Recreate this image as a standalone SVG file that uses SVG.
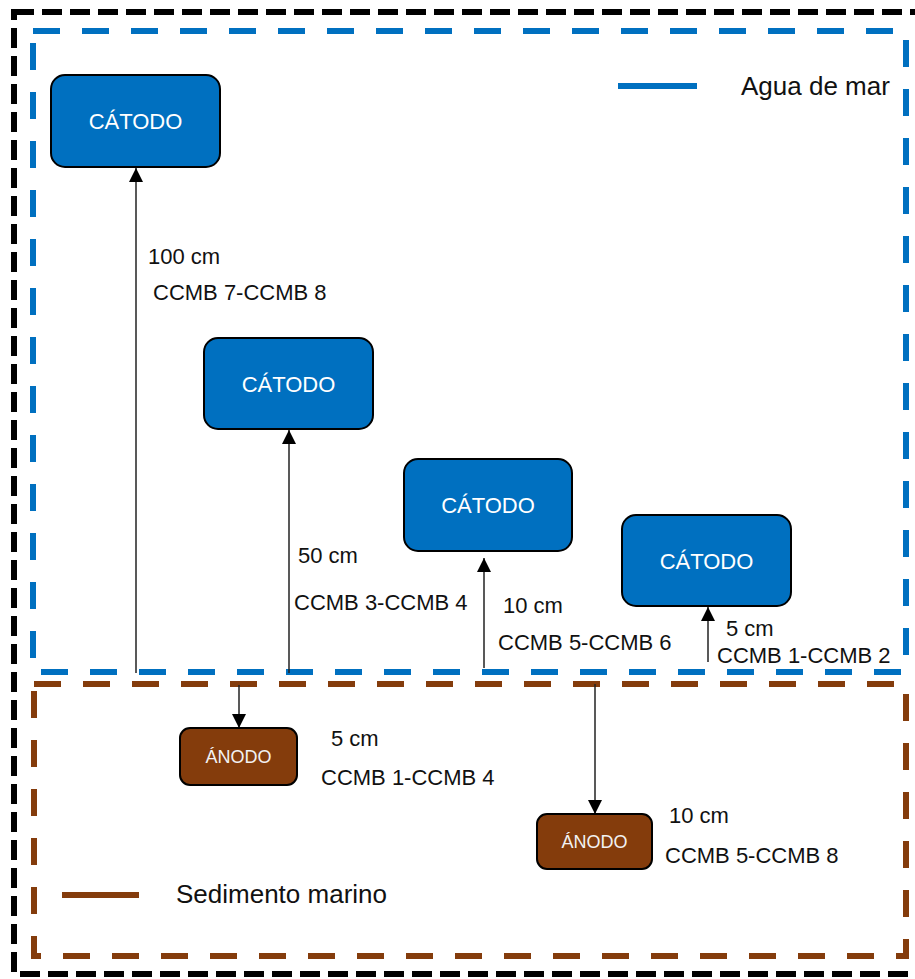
<svg xmlns="http://www.w3.org/2000/svg" width="915" height="979" viewBox="0 0 915 979">
<style>
.frame{fill:none;stroke:#000;stroke-width:6;stroke-dasharray:20 8}
.sea{fill:none;stroke:#0070C0;stroke-width:6;stroke-dasharray:27 22}
.sed{fill:none;stroke:#843C0C;stroke-width:6;stroke-dasharray:27 22}
.cat rect{fill:#0070C0;stroke:#000;stroke-width:2}
.ano rect{fill:#843C0C;stroke:#000;stroke-width:2}
.cat text{fill:#fff;font-family:"Liberation Sans",Arial,sans-serif;font-size:22px;text-anchor:middle}
.ano text{fill:#f2f2f2;font-family:"Liberation Sans",Arial,sans-serif;font-size:18px;text-anchor:middle}
.lbl{fill:#111;font-family:"Liberation Sans",Arial,sans-serif;font-size:22px}
.leg{fill:#111;font-family:"Liberation Sans",Arial,sans-serif;font-size:26px}
.conn line{stroke:#222;stroke-width:1.5;marker-end:url(#ah)}
</style>
<defs>
<marker id="ah" markerUnits="userSpaceOnUse" markerWidth="15" markerHeight="15" refX="14" refY="7" orient="auto">
<path d="M0,0 L14,7 L0,14 z" fill="#000"/>
</marker>
</defs>
<rect width="915" height="979" fill="#fff"/>
<g id="frame">
<rect class="frame" x="14" y="12" width="904" height="962"/>
</g>
<g id="agua-de-mar">
<rect class="sea" x="33" y="31" width="873" height="641"/>
</g>
<g id="sedimento">
<rect class="sed" x="34" y="684" width="872" height="272"/>
</g>
<g id="legend-agua">
<line x1="618" y1="86" x2="697" y2="86" stroke="#0070C0" stroke-width="6"/>
<text class="leg" x="741" y="95">Agua de mar</text>
</g>
<g id="legend-sedimento">
<line x1="62" y1="895" x2="139" y2="895" stroke="#843C0C" stroke-width="6"/>
<text class="leg" x="176" y="903">Sedimento marino</text>
</g>
<g id="connectors" class="conn">
<line x1="136" y1="673" x2="136" y2="168"/>
<line x1="289" y1="673" x2="289" y2="430"/>
<line x1="484" y1="668" x2="484" y2="558"/>
<line x1="708" y1="662" x2="708" y2="607"/>
<line x1="239" y1="685" x2="239" y2="728"/>
<line x1="595" y1="684" x2="595" y2="814"/>
</g>
<g id="catodo1" class="cat">
<rect x="51" y="75" width="169" height="92" rx="14"/>
<text x="135.5" y="129">CÁTODO</text>
</g>
<g id="catodo2" class="cat">
<rect x="204" y="338" width="169" height="91" rx="14"/>
<text x="288.5" y="392">CÁTODO</text>
</g>
<g id="catodo3" class="cat">
<rect x="404" y="459" width="168" height="92" rx="14"/>
<text x="488" y="513">CÁTODO</text>
</g>
<g id="catodo4" class="cat">
<rect x="622" y="515" width="169" height="91" rx="14"/>
<text x="706.5" y="569">CÁTODO</text>
</g>
<g id="anodo1" class="ano">
<rect x="180" y="728" width="117" height="57" rx="10"/>
<text x="238.5" y="763">ÁNODO</text>
</g>
<g id="anodo2" class="ano">
<rect x="537" y="814" width="115" height="55" rx="10"/>
<text x="594.5" y="848">ÁNODO</text>
</g>
<g id="labels">
<text class="lbl" x="148" y="264">100 cm</text>
<text class="lbl" x="153" y="300">CCMB 7-CCMB 8</text>
<text class="lbl" x="298" y="563">50 cm</text>
<text class="lbl" x="294" y="610">CCMB 3-CCMB 4</text>
<text class="lbl" x="503" y="613">10 cm</text>
<text class="lbl" x="498" y="650">CCMB 5-CCMB 6</text>
<text class="lbl" x="726" y="636">5 cm</text>
<text class="lbl" x="717" y="663">CCMB 1-CCMB 2</text>
<text class="lbl" x="331" y="746">5 cm</text>
<text class="lbl" x="321" y="785">CCMB 1-CCMB 4</text>
<text class="lbl" x="669" y="823">10 cm</text>
<text class="lbl" x="665" y="863">CCMB 5-CCMB 8</text>
</g>
</svg>
